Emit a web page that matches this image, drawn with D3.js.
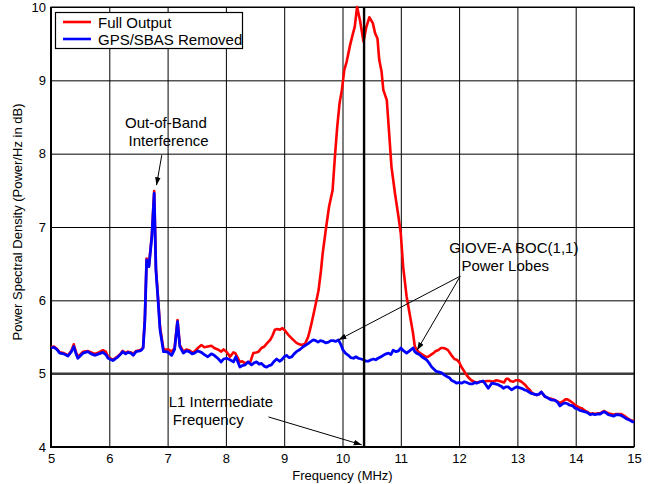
<!DOCTYPE html>
<html>
<head>
<meta charset="utf-8">
<script src="https://cdn.jsdelivr.net/npm/d3@7"></script>
<style>
  body { margin: 0; background: #fff; }
  svg text { font-family: 'Liberation Sans', Arial, Helvetica, sans-serif; fill: #000; }
  .tick text { font-size: 13px; }
  .grid line { stroke: #000; stroke-width: 1; }
  .grid .domain { display: none; }
</style>
</head>
<body>
<svg id="chart" width="656" height="484"></svg>
<script>
// frequency axis values (MHz) and psd values (dB)

const freqRemoved = [
  5.00, 5.05, 5.10, 5.15, 5.22, 5.29, 5.35, 5.39, 5.43, 5.46, 5.50, 5.55, 5.63, 5.69, 5.75, 5.82,
  5.89, 5.94, 5.98, 6.06, 6.10, 6.15, 6.20, 6.23, 6.28, 6.32, 6.37, 6.41, 6.46, 6.52, 6.55, 6.58,
  6.61, 6.64, 6.68, 6.73, 6.77, 6.80, 6.84, 6.87, 6.90, 6.93, 6.97, 7.01, 7.07, 7.12, 7.17, 7.21,
  7.27, 7.32, 7.37, 7.42, 7.46, 7.52, 7.58, 7.63, 7.69, 7.75, 7.80, 7.86, 7.92, 7.96, 8.01, 8.07,
  8.13, 8.17, 8.24, 8.28, 8.33, 8.38, 8.44, 8.49, 8.53, 8.57, 8.61, 8.66, 8.70, 8.74, 8.78, 8.83,
  8.87, 8.92, 8.96, 9.00, 9.04, 9.08, 9.13, 9.17, 9.21, 9.27, 9.33, 9.37, 9.41, 9.46, 9.50, 9.54,
  9.58, 9.62, 9.67, 9.71, 9.76, 9.80, 9.84, 9.88, 9.93, 9.97, 10.01, 10.05, 10.10, 10.14, 10.19, 10.23,
  10.27, 10.32, 10.36, 10.40, 10.44, 10.49, 10.53, 10.57, 10.61, 10.66, 10.70, 10.75, 10.79, 10.83, 10.87, 10.92,
  10.96, 11.00, 11.05, 11.10, 11.15, 11.21, 11.24, 11.27, 11.32, 11.36, 11.40, 11.44, 11.49, 11.53, 11.57, 11.61,
  11.66, 11.70, 11.75, 11.79, 11.84, 11.87, 11.92, 11.96, 12.00, 12.04, 12.09, 12.13, 12.19, 12.23, 12.27, 12.30,
  12.36, 12.41, 12.45, 12.50, 12.56, 12.62, 12.67, 12.72, 12.76, 12.80, 12.84, 12.90, 12.94, 12.99, 13.03, 13.07,
  13.12, 13.16, 13.20, 13.24, 13.29, 13.33, 13.37, 13.41, 13.44, 13.47, 13.52, 13.56, 13.60, 13.64, 13.69, 13.73,
  13.78, 13.82, 13.86, 13.90, 13.95, 13.99, 14.03, 14.07, 14.12, 14.16, 14.20, 14.25, 14.29, 14.33, 14.38, 14.42,
  14.46, 14.49, 14.53, 14.56, 14.61, 14.65, 14.69, 14.73, 14.78, 14.82, 14.86, 14.91, 14.96, 15.00
];
const psdRemoved = [
  5.35, 5.36, 5.33, 5.28, 5.27, 5.24, 5.30, 5.37, 5.27, 5.21, 5.24, 5.28, 5.30, 5.27, 5.25, 5.27,
  5.29, 5.26, 5.21, 5.18, 5.20, 5.23, 5.27, 5.30, 5.27, 5.29, 5.28, 5.25, 5.30, 5.31, 5.32, 5.35,
  5.73, 6.55, 6.46, 6.87, 7.46, 6.41, 5.96, 5.60, 5.45, 5.30, 5.30, 5.29, 5.25, 5.33, 5.71, 5.37,
  5.28, 5.31, 5.30, 5.27, 5.28, 5.31, 5.29, 5.26, 5.23, 5.27, 5.25, 5.21, 5.16, 5.20, 5.21, 5.19,
  5.16, 5.23, 5.09, 5.11, 5.12, 5.16, 5.12, 5.15, 5.16, 5.13, 5.14, 5.10, 5.09, 5.11, 5.12, 5.17,
  5.20, 5.17, 5.19, 5.23, 5.25, 5.22, 5.23, 5.27, 5.30, 5.33, 5.37, 5.39, 5.41, 5.44, 5.46, 5.45,
  5.43, 5.45, 5.44, 5.42, 5.43, 5.45, 5.45, 5.44, 5.46, 5.40, 5.32, 5.28, 5.25, 5.22, 5.21, 5.23,
  5.21, 5.20, 5.19, 5.17, 5.17, 5.19, 5.20, 5.19, 5.21, 5.23, 5.25, 5.27, 5.28, 5.26, 5.32, 5.30,
  5.31, 5.35, 5.31, 5.28, 5.31, 5.35, 5.30, 5.28, 5.26, 5.23, 5.21, 5.19, 5.14, 5.09, 5.06, 5.03,
  5.02, 5.01, 4.98, 4.96, 4.94, 4.91, 4.89, 4.87, 4.88, 4.87, 4.89, 4.88, 4.86, 4.86, 4.88, 4.87,
  4.89, 4.90, 4.86, 4.80, 4.87, 4.86, 4.85, 4.83, 4.80, 4.82, 4.82, 4.78, 4.80, 4.82, 4.81, 4.80,
  4.78, 4.77, 4.75, 4.73, 4.72, 4.71, 4.72, 4.75, 4.72, 4.69, 4.67, 4.65, 4.64, 4.64, 4.61, 4.56,
  4.59, 4.60, 4.59, 4.57, 4.56, 4.53, 4.52, 4.50, 4.49, 4.48, 4.47, 4.44, 4.45, 4.44, 4.45, 4.45,
  4.47, 4.48, 4.46, 4.44, 4.43, 4.42, 4.44, 4.44, 4.43, 4.41, 4.39, 4.37, 4.35, 4.34
];

const freqFull = [
  5.00, 5.05, 5.10, 5.15, 5.22, 5.29, 5.35, 5.39, 5.43, 5.46, 5.50, 5.55, 5.63, 5.69, 5.75, 5.82,
  5.89, 5.94, 5.98, 6.06, 6.10, 6.15, 6.20, 6.23, 6.28, 6.32, 6.37, 6.41, 6.46, 6.52, 6.55, 6.58,
  6.61, 6.64, 6.68, 6.73, 6.77, 6.80, 6.84, 6.87, 6.90, 6.93, 6.97, 7.01, 7.07, 7.12, 7.17, 7.21,
  7.27, 7.32, 7.37, 7.42, 7.46, 7.52, 7.58, 7.63, 7.69, 7.75, 7.80, 7.86, 7.92, 7.96, 8.01, 8.07,
  8.13, 8.16, 8.20, 8.24, 8.28, 8.33, 8.38, 8.41, 8.47, 8.52, 8.56, 8.61, 8.66, 8.70, 8.76, 8.80,
  8.84, 8.88, 8.93, 8.97, 9.01, 9.04, 9.07, 9.13, 9.17, 9.21, 9.26, 9.30, 9.36, 9.41, 9.44, 9.47,
  9.53, 9.59, 9.63, 9.66, 9.72, 9.77, 9.83, 9.87, 9.91, 9.95, 9.99, 10.03, 10.07, 10.13, 10.18, 10.21,
  10.25, 10.30, 10.36, 10.41, 10.46, 10.52, 10.56, 10.60, 10.63, 10.67, 10.70, 10.76, 10.80, 10.84, 10.90, 10.96,
  11.00, 11.04, 11.10, 11.16, 11.21, 11.24, 11.30, 11.35, 11.39, 11.43, 11.47, 11.52, 11.56, 11.60, 11.64, 11.69,
  11.73, 11.77, 11.81, 11.87, 11.92, 11.96, 12.00, 12.04, 12.09, 12.13, 12.17, 12.21, 12.26, 12.30, 12.36, 12.41,
  12.47, 12.53, 12.58, 12.64, 12.69, 12.73, 12.77, 12.81, 12.84, 12.88, 12.93, 12.97, 13.02, 13.07, 13.13, 13.17,
  13.21, 13.26, 13.29, 13.33, 13.37, 13.41, 13.44, 13.47, 13.52, 13.56, 13.60, 13.64, 13.69, 13.73, 13.78, 13.82,
  13.86, 13.90, 13.95, 14.01, 14.06, 14.10, 14.15, 14.20, 14.25, 14.29, 14.33, 14.38, 14.42, 14.46, 14.49, 14.53,
  14.56, 14.61, 14.65, 14.69, 14.73, 14.78, 14.82, 14.86, 14.91, 14.96, 15.00
];
const psdFull = [
  5.36, 5.37, 5.34, 5.29, 5.28, 5.25, 5.31, 5.40, 5.29, 5.23, 5.26, 5.30, 5.31, 5.29, 5.27, 5.29,
  5.32, 5.30, 5.23, 5.19, 5.21, 5.24, 5.28, 5.31, 5.28, 5.30, 5.29, 5.27, 5.31, 5.32, 5.33, 5.36,
  5.75, 6.57, 6.48, 6.89, 7.49, 6.43, 5.99, 5.64, 5.48, 5.33, 5.33, 5.33, 5.30, 5.35, 5.73, 5.39,
  5.30, 5.33, 5.32, 5.29, 5.30, 5.35, 5.39, 5.36, 5.37, 5.38, 5.35, 5.33, 5.30, 5.33, 5.30, 5.23,
  5.29, 5.28, 5.22, 5.16, 5.17, 5.14, 5.16, 5.14, 5.28, 5.29, 5.30, 5.35, 5.37, 5.41, 5.46, 5.52,
  5.60, 5.61, 5.60, 5.62, 5.59, 5.56, 5.53, 5.48, 5.45, 5.42, 5.40, 5.39, 5.41, 5.50, 5.59, 5.69,
  5.91, 6.14, 6.40, 6.64, 7.00, 7.28, 7.50, 7.96, 8.37, 8.69, 8.87, 9.14, 9.25, 9.48, 9.64, 9.73,
  10.00, 9.82, 9.53, 9.73, 9.86, 9.78, 9.64, 9.57, 9.28, 9.12, 8.87, 8.73, 8.28, 7.82, 7.46, 7.14,
  6.91, 6.46, 6.05, 5.78, 5.55, 5.37, 5.30, 5.27, 5.25, 5.23, 5.23, 5.26, 5.28, 5.31, 5.32, 5.35,
  5.35, 5.34, 5.32, 5.25, 5.20, 5.19, 5.16, 5.09, 5.03, 4.98, 4.94, 4.91, 4.89, 4.88, 4.89, 4.89,
  4.90, 4.90, 4.89, 4.91, 4.90, 4.89, 4.88, 4.93, 4.93, 4.90, 4.89, 4.91, 4.91, 4.89, 4.85, 4.81,
  4.78, 4.73, 4.72, 4.71, 4.72, 4.75, 4.72, 4.69, 4.67, 4.66, 4.65, 4.64, 4.62, 4.60, 4.62, 4.65,
  4.65, 4.63, 4.60, 4.56, 4.54, 4.53, 4.50, 4.48, 4.45, 4.46, 4.45, 4.46, 4.46, 4.48, 4.49, 4.47,
  4.46, 4.45, 4.44, 4.45, 4.45, 4.45, 4.43, 4.41, 4.38, 4.36, 4.35
];

const xTicks = [5, 6, 7, 8, 9, 10, 11, 12, 13, 14, 15];
const yTicks = [4, 5, 6, 7, 8, 9, 10];
const seriesNames = ['Full Output', 'GPS/SBAS Removed'];
const seriesColors = ['#ff0000', '#0000ff'];
const ifFreq = 10.37;

const margin = { top: 7, right: 22, bottom: 37, left: 51 };
const width = 656;
const height = 484;

const svg = d3.select('#chart');

const x = d3.scaleLinear()
            .domain([5, 15])
            .range([margin.left, width - margin.right]);

const y = d3.scaleLinear()
            .domain([4, 10])
            .range([height - margin.bottom, margin.top]);

// grid lines + tick labels
svg.append('g')
   .attr('class', 'grid')
   .attr('transform', 'translate(0,' + y(4) + ')')
   .call(d3.axisBottom(x).tickValues(xTicks).tickFormat(d3.format('d'))
           .tickSize(-(y(4) - y(10))).tickPadding(6))
   .call(g => g.selectAll('.tick text').attr('dy', '0.75em'));

svg.append('g')
   .attr('class', 'grid')
   .attr('transform', 'translate(' + x(5) + ',0)')
   .call(d3.axisLeft(y).tickValues(yTicks).tickFormat(d3.format('d'))
           .tickSize(-(x(15) - x(5))).tickPadding(5));

// the 5 dB line is drawn darker
svg.append('line')
   .attr('x1', x(5)).attr('x2', x(15))
   .attr('y1', y(5)).attr('y2', y(5))
   .attr('stroke', '#3a3a3a')
   .attr('stroke-width', 2.2);

// frame
svg.append('rect')
   .attr('x', x(5)).attr('y', y(10))
   .attr('width', x(15) - x(5)).attr('height', y(4) - y(10))
   .attr('fill', 'none').attr('stroke', '#000').attr('stroke-width', 1);

svg.append('path')
   .attr('d', 'M' + x(5) + ',' + y(10) + 'V' + y(4) + 'H' + x(15))
   .attr('fill', 'none').attr('stroke', '#000').attr('stroke-width', 2);

// series
const line = d3.line()
               .x(d => x(d[0]))
               .y(d => y(d[1]));

const fullData = d3.zip(freqFull, psdFull);
const removedData = d3.zip(freqRemoved, psdRemoved);

svg.append('path')
   .datum(fullData)
   .attr('d', line)
   .attr('fill', 'none')
   .attr('stroke', seriesColors[0])
   .attr('stroke-width', 2.6)
   .attr('stroke-linejoin', 'round');

svg.append('path')
   .datum(removedData)
   .attr('d', line)
   .attr('fill', 'none')
   .attr('stroke', seriesColors[1])
   .attr('stroke-width', 2.8)
   .attr('stroke-linejoin', 'round');

// L1 intermediate frequency marker
svg.append('line')
   .attr('x1', x(ifFreq)).attr('x2', x(ifFreq))
   .attr('y1', y(10)).attr('y2', y(4))
   .attr('stroke', '#000')
   .attr('stroke-width', 2.4);

// axis titles
svg.append('text')
   .attr('x', x(10))
   .attr('y', 480)
   .attr('text-anchor', 'middle')
   .style('font-size', '13px')
   .text('Frequency (MHz)');

svg.append('text')
   .attr('transform', 'translate(22,' + (y(7) - 5) + ') rotate(-90)')
   .attr('text-anchor', 'middle')
   .style('font-size', '13px')
   .text('Power Spectral Density (Power/Hz in dB)');

// legend
const legend = svg.append('g').attr('id', 'legend');
legend.append('rect')
      .attr('x', 55.5).attr('y', 12.5)
      .attr('width', 187).attr('height', 36)
      .attr('fill', '#fff').attr('stroke', '#000').attr('stroke-width', 1.2);

seriesNames.forEach((name, i) => {
  legend.append('line')
        .attr('x1', 63).attr('x2', 91)
        .attr('y1', 22 + i * 17).attr('y2', 22 + i * 17)
        .attr('stroke', seriesColors[i]).attr('stroke-width', 2.6);
  legend.append('text')
        .attr('x', 98).attr('y', 27.5 + i * 17)
        .style('font-size', '15px')
        .text(name);
});

// annotations
const defs = svg.append('defs');
defs.append('marker')
    .attr('id', 'arrow')
    .attr('viewBox', '0 0 10 10')
    .attr('refX', 10).attr('refY', 5)
    .attr('markerWidth', 8).attr('markerHeight', 8)
    .attr('markerUnits', 'userSpaceOnUse')
    .attr('orient', 'auto')
    .append('path')
    .attr('d', 'M0,1.5L10,5L0,8.5Z')
    .attr('fill', '#000');

const notes = [
  { lines: ['Out-of-Band', 'Interference'], at: [[6.27, 8.35], [6.33, 8.10]],
    arrows: [[[6.90, 7.98], [6.81, 7.57]]] },
  { lines: ['GIOVE-A BOC(1,1)', 'Power Lobes'], at: [[11.83, 6.65], [12.04, 6.40]],
    arrows: [[[12.02, 6.33], [9.93, 5.46]], [[12.02, 6.33], [11.28, 5.32]]] },
  { lines: ['L1 Intermediate', 'Frequency'], at: [[7.02, 4.55], [7.09, 4.30]],
    arrows: [[[8.73, 4.41], [10.33, 4.03]]] }
];

notes.forEach(n => {
  n.lines.forEach((t, i) => {
    svg.append('text')
       .attr('x', x(n.at[i][0]))
       .attr('y', y(n.at[i][1]))
       .style('font-size', '15px')
       .text(t);
  });
  n.arrows.forEach(a => {
    svg.append('line')
       .attr('x1', x(a[0][0])).attr('y1', y(a[0][1]))
       .attr('x2', x(a[1][0])).attr('y2', y(a[1][1]))
       .attr('stroke', '#000').attr('stroke-width', 1)
       .attr('marker-end', 'url(#arrow)');
  });
});
</script>
</body>
</html>
